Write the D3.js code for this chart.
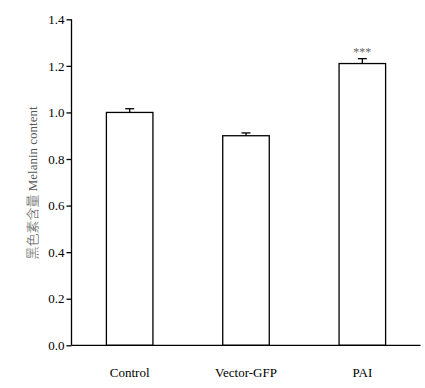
<!DOCTYPE html>
<html><head><meta charset="utf-8">
<script src="https://cdn.jsdelivr.net/npm/d3@7"></script>
<style>body{margin:0;background:#fff}svg{display:block}
svg text{font-family:"Liberation Serif","Times New Roman",serif}
</style>
</head><body>
<svg id="c" width="425" height="388"></svg>
<script>
const categories = ["Control", "Vector-GFP", "PAI"];
const values = [1.00, 0.90, 1.21];
const errors = [0.016, 0.012, 0.021];
const marks = ["", "", "***"];
const yTicks = [0.0, 0.2, 0.4, 0.6, 0.8, 1.0, 1.2, 1.4];
const yLabel = ["黑色素含量", " Melanin content"];

(function(){
const svg = d3.select("#c");
const mLeft = 71.5, mRight = 420.5, mTop = 19.3, mBottom = 345.3;
const font = '"Liberation Serif","Times New Roman",serif';

const x = d3.scaleBand().domain(categories).range([mLeft, mRight]).paddingInner(0.6).paddingOuter(0.3);
const y = d3.scaleLinear().domain([0, 1.4]).range([mBottom, mTop]);

// bars
svg.selectAll("rect.bar").data(categories).join("rect")
  .attr("x", d => x(d)).attr("width", x.bandwidth())
  .attr("y", (d,i) => y(values[i])).attr("height", (d,i) => y(0) - y(values[i]))
  .attr("fill", "#fff").attr("stroke", "#000").attr("stroke-width", 1.3);

// error bars
const capW = 9;
categories.forEach((c,i) => {
  const cx = x(c) + x.bandwidth()/2;
  svg.append("line").attr("x1", cx).attr("x2", cx)
    .attr("y1", y(values[i])).attr("y2", y(values[i]+errors[i]))
    .attr("stroke", "#000").attr("stroke-width", 1.3);
  svg.append("line").attr("x1", cx-capW/2).attr("x2", cx+capW/2)
    .attr("y1", y(values[i]+errors[i])).attr("y2", y(values[i]+errors[i]))
    .attr("stroke", "#000").attr("stroke-width", 1.3);
  if (marks[i]) {
    svg.append("text").attr("x", cx).attr("y", y(values[i]+errors[i]) - 3)
      .attr("text-anchor", "middle").style("font-family", font).style("font-size", "12px")
      .attr("fill", "#666").text(marks[i]);
  }
});

// y axis
const yAxis = svg.append("g").attr("transform", `translate(${mLeft},0)`)
  .call(d3.axisLeft(y).tickValues(yTicks).tickFormat(d3.format(".1f")).tickSize(5).tickPadding(2));
yAxis.attr("font-family", null);
yAxis.select(".domain").attr("d", `M0,${mTop}V${mBottom}`).attr("stroke-width", 1.3);
yAxis.selectAll(".tick line").attr("stroke-width", 1.3);
yAxis.selectAll("text").style("font-family", font).style("font-size", "13px").attr("fill", "#000");

// x axis
const xAxis = svg.append("g").attr("transform", `translate(0,${mBottom})`)
  .call(d3.axisBottom(x).tickSize(0).tickPadding(22));
xAxis.attr("font-family", null);
xAxis.select(".domain").attr("d", `M${mLeft},0H${mRight}`).attr("stroke-width", 1.3);
xAxis.selectAll("text").style("font-family", font).style("font-size", "13px").attr("fill", "#000");

// y label
const yl = svg.append("text").attr("transform", `translate(37,${(103+263)/2}) rotate(-90)`)
  .attr("text-anchor", "middle").style("font-family", font).style("font-size", "13px").attr("fill", "#555");
yl.append("tspan").style("font-family", '"Noto Sans CJK SC",sans-serif').style("font-weight", 300).style("font-size", "13px").text(yLabel[0]);
yl.append("tspan").text(yLabel[1]);
})();
</script>
</body></html>
